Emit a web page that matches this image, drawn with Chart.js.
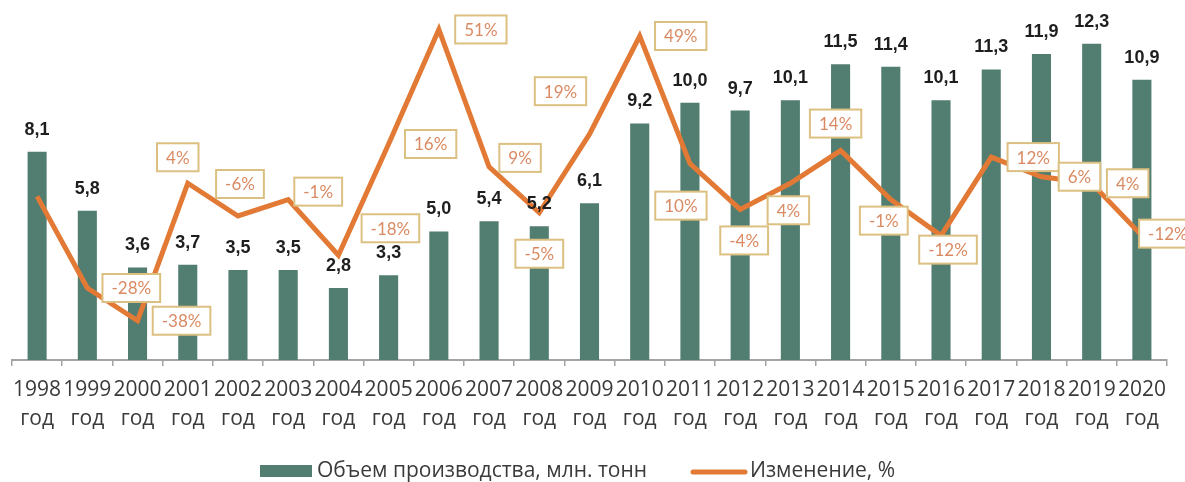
<!DOCTYPE html>
<html>
<head>
<meta charset="utf-8">
<script src="https://cdn.jsdelivr.net/npm/chart.js@4.4.1/dist/chart.umd.min.js"></script>
<style>
html,body{margin:0;padding:0;background:#ffffff;}
canvas{display:block;}
</style>
</head>
<body>
<canvas id="c" width="1185" height="482"></canvas>
<script>
// ---- data ----
const years = ['1998','1999','2000','2001','2002','2003','2004','2005','2006','2007','2008','2009','2010','2011','2012','2013','2014','2015','2016','2017','2018','2019','2020'];
const yearSuffix = 'год';
const volume = [8.1,5.8,3.6,3.7,3.5,3.5,2.8,3.3,5.0,5.4,5.2,6.1,9.2,10.0,9.7,10.1,11.5,11.4,10.1,11.3,11.9,12.3,10.9];
const change = [0,-28,-38,4,-6,-1,-18,16,51,9,-5,19,49,10,-4,4,14,-1,-12,12,6,4,-12];
const volumeLabel = 'Объем производства, млн. тонн';
const changeLabel = 'Изменение, %';

// ---- label placement (offset of each % box from its point, px) ----
const pctOffsets = [null,[44,0],[44,0],[-10,-26],[2,-32],[30,-8],[52,-27],[42,0],[42,0],[31,-9],[0,41],[-29,-43],[41,0],[-9,42],[4,31],[-2,27],[-5,-27],[-7,21],[7,14],[42,0],[38,0],[36,0],[26,-2]];

const GREEN = '#527D71';
const ORANGE = '#E27A36';
const AXIS = '#A3A3A3';
const TEXT = '#3A3A3A';

const labelsPlugin = {
  id: 'valueLabels',
  afterDatasetsDraw(chart) {
    const ctx = chart.ctx;
    const barMeta = chart.getDatasetMeta(0);
    const lineMeta = chart.getDatasetMeta(1);
    ctx.save();
    // bar values
    ctx.font = 'bold 18px "Liberation Sans", Arial, sans-serif';
    ctx.fillStyle = '#1E1E1E';
    ctx.textAlign = 'center';
    ctx.textBaseline = 'middle';
    barMeta.data.forEach((bar, i) => {
      const txt = volume[i].toFixed(1).replace('.', ',');
      ctx.fillText(txt, bar.x, bar.y - 22);
    });
    // percentage boxes
    ctx.font = '17px Lato, "Open Sans", sans-serif';
    lineMeta.data.forEach((pt, i) => {
      const off = pctOffsets[i];
      if (!off) return;
      const txt = change[i] + '%';
      const cx = pt.x + off[0];
      const cy = pt.y + off[1];
      const w = ctx.measureText(txt).width + 18;
      const h = 28;
      ctx.fillStyle = '#FFFFFF';
      ctx.fillRect(cx - w / 2, cy - h / 2, w, h);
      ctx.lineWidth = 2;
      ctx.strokeStyle = '#DCC081';
      ctx.strokeRect(cx - w / 2, cy - h / 2, w, h);
      ctx.fillStyle = '#DA8A63';
      ctx.fillText(txt, cx, cy + 1);
    });
    ctx.restore();
  }
};

const legendPlugin = {
  id: 'customLegend',
  afterDraw(chart) {
    const ctx = chart.ctx;
    ctx.save();
    ctx.font = '21px "Open Sans", sans-serif';
    ctx.textBaseline = 'middle';
    ctx.textAlign = 'left';
    const y = 471;
    let x = 260;
    ctx.fillStyle = GREEN;
    ctx.fillRect(x, y - 6, 52, 12);
    x += 57;
    ctx.fillStyle = TEXT;
    ctx.fillText(volumeLabel, x, y);
    x += ctx.measureText(volumeLabel).width + 43;
    ctx.strokeStyle = ORANGE;
    ctx.lineWidth = 5;
    ctx.lineCap = 'round';
    ctx.beginPath();
    ctx.moveTo(x + 3, y + 1);
    ctx.lineTo(x + 55, y + 1);
    ctx.stroke();
    x += 60;
    ctx.fillText(changeLabel, x, y);
    ctx.restore();
  }
};

new Chart(document.getElementById('c'), {
  data: {
    labels: years.map(y => [y, yearSuffix]),
    datasets: [
      {
        type: 'bar',
        label: volumeLabel,
        data: volume,
        backgroundColor: GREEN,
        yAxisID: 'y',
        barPercentage: 0.38,
        categoryPercentage: 1,
        order: 2
      },
      {
        type: 'line',
        label: changeLabel,
        data: change,
        borderColor: ORANGE,
        backgroundColor: ORANGE,
        borderWidth: 5,
        pointRadius: 0,
        tension: 0,
        yAxisID: 'y1',
        order: 1
      }
    ]
  },
  options: {
    responsive: false,
    animation: false,
    devicePixelRatio: 1,
    layout: { padding: { left: 12, right: 18, top: 0, bottom: 43 } },
    plugins: {
      legend: { display: false },
      tooltip: { enabled: false }
    },
    scales: {
      x: {
        offset: true,
        afterFit(scale) { scale.height = 79; },
        grid: { display: true, offset: true, drawOnChartArea: false, drawTicks: true, tickLength: 6, color: AXIS, lineWidth: 1.5 },
        border: { display: true, color: AXIS, width: 2 },
        ticks: { color: TEXT, font: { family: '"Open Sans", sans-serif', size: 21, lineHeight: 1.35 }, padding: 10, maxRotation: 0, autoSkip: false }
      },
      y: { display: false, min: 0, max: 14 },
      y1: { display: false, min: -50, max: 60, position: 'right' }
    }
  },
  plugins: [labelsPlugin, legendPlugin]
});
</script>
</body>
</html>
